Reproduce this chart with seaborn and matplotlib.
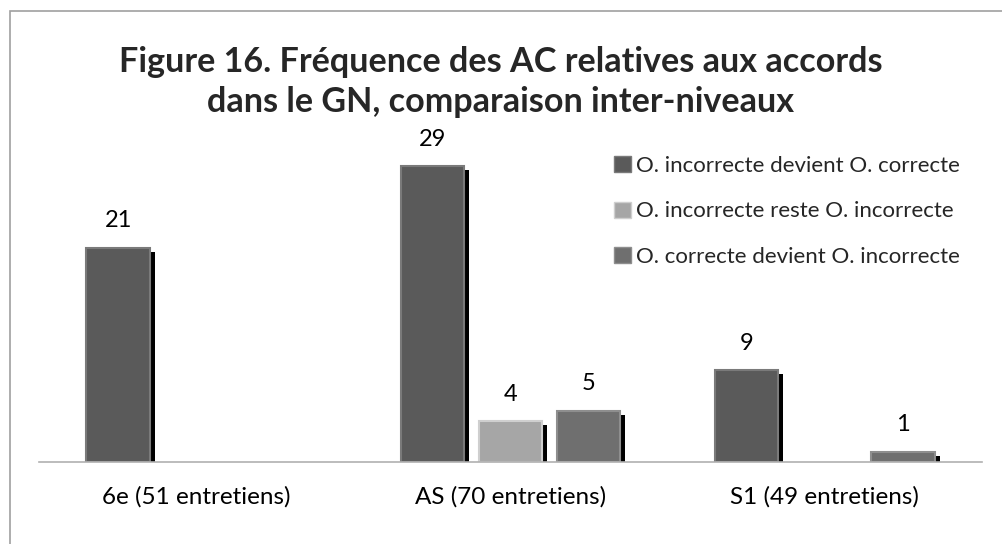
import pandas as pd
import matplotlib.pyplot as plt
import matplotlib.patheffects as pe
from matplotlib.patches import Rectangle
import seaborn as sns

# data
niveaux = ["6e (51 entretiens)", "AS (70 entretiens)", "S1 (49 entretiens)"]
series = ["O. incorrecte devient O. correcte",
          "O. incorrecte reste O. incorrecte",
          "O. correcte devient O. incorrecte"]
inc_to_corr = [21, 29, 9]
inc_reste = [0, 4, 0]
corr_to_inc = [0, 5, 1]

df = pd.DataFrame({
    "niveau": niveaux * 3,
    "serie": [series[0]] * 3 + [series[1]] * 3 + [series[2]] * 3,
    "n": inc_to_corr + inc_reste + corr_to_inc,
})

sns.set_style("white")
plt.rcParams["font.family"] = ["Lato", "DejaVu Sans"]

colors = ["#5a5a5a", "#a6a6a6", "#6f6f6f"]
edges = ["#7a7a7a", "#cfcfcf", "#8e8e8e"]

fig = plt.figure(figsize=(10.02, 5.44), dpi=100)
ax = fig.add_axes([39 / 1002, 82 / 544, 943 / 1002, 357 / 544])

sns.barplot(data=df, x="niveau", y="n", hue="serie", palette=colors,
            width=0.745, gap=0.19, ax=ax, legend=False)

shadow = [pe.SimplePatchShadow(offset=(3.6, -2.8), shadow_rgbFace="black", alpha=1.0), pe.Normal()]
for i, cont in enumerate(ax.containers):
    vals = df[df["serie"] == series[i]]["n"].tolist()
    for bar, v in zip(cont, vals):
        if v == 0:
            bar.set_visible(False)
            continue
        bar.set_edgecolor(edges[i])
        bar.set_linewidth(1.5)
        bar.set_path_effects(shadow)
    labels = [str(v) if v > 0 else "" for v in vals]
    ax.bar_label(cont, labels=labels, padding=12, fontsize=17, color="black")

ax.set_ylim(0, 35)
ax.set_xlim(-0.5, 2.5)
ax.set_xlabel("")
ax.set_ylabel("")
ax.set_yticks([])
ax.tick_params(axis="x", length=0, labelsize=17.5, pad=17, labelcolor="black")
for s in ["top", "right", "left"]:
    ax.spines[s].set_visible(False)
ax.spines["bottom"].set_color("#b0b0b0")
ax.spines["bottom"].set_linewidth(1.2)

# legend at top right
handles = [Rectangle((0, 0), 1, 1, facecolor=c, edgecolor=e, lw=1) for c, e in zip(colors, edges)]
fig.legend(handles, series, loc="upper left", bbox_to_anchor=(605 / 1002, 1 - 147 / 544),
           frameon=False, fontsize=16, handlelength=0.75, handleheight=0.75,
           handletextpad=0.25, labelspacing=1.15, borderaxespad=0)

fig.text(0.5, 1 - 62 / 544, "Figure 16. Fréquence des AC relatives aux accords",
         ha="center", va="center", fontsize=24.6, fontweight="bold")
fig.text(0.5, 1 - 102 / 544, "dans le GN, comparaison inter-niveaux",
         ha="center", va="center", fontsize=24.6, fontweight="bold")

# chart border
fig.patches.append(Rectangle((10 / 1002, -0.1), 1.2, 1 - 11 / 544 + 0.1, transform=fig.transFigure,
                             fill=False, edgecolor="#a0a0a0", lw=1.2))

fig.savefig("out.png", dpi=100)
